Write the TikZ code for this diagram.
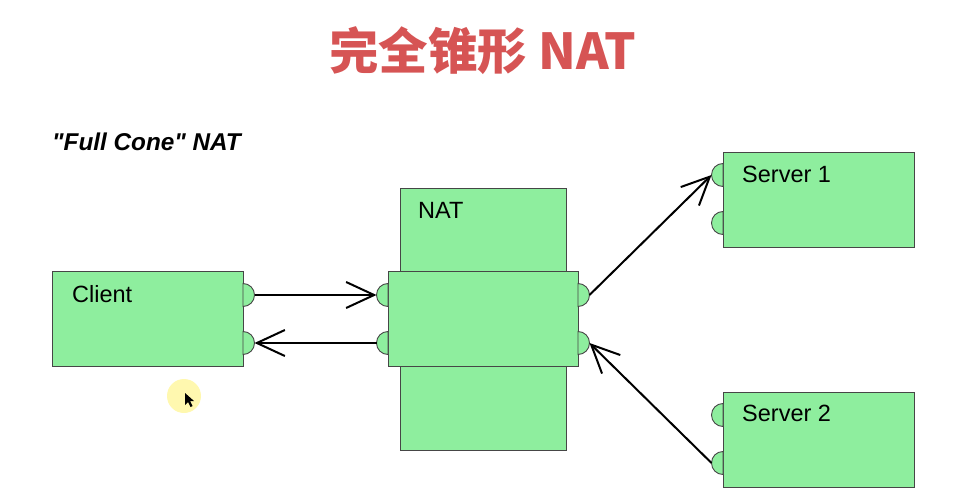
\documentclass[tikz,border=0pt]{standalone}
\usepackage{fontspec}
\setmainfont{Liberation Sans}
\newfontfamily\subfont{Liberation Sans}
\newfontfamily\cjk{Noto Sans CJK SC}
\usetikzlibrary{arrows.meta}
\definecolor{boxgreen}{RGB}{142,238,158}
\definecolor{titlered}{RGB}{214,84,84}
\definecolor{edgegrey}{RGB}{70,70,70}
\definecolor{cursorglow}{RGB}{255,248,175}
\newcommand\portright[2]{\draw[portst] (#1,#2-11.5) arc[start angle=-90,end angle=90,radius=11.5] -- cycle;}
\newcommand\portleft[2]{\draw[portst] (#1,#2-11.5) arc[start angle=-90,end angle=-270,radius=11.5] -- cycle;}
\begin{document}
\begin{tikzpicture}[x=1pt,y=-1pt,
 box/.style={draw=edgegrey, fill=boxgreen, line width=0.9pt, inner sep=0, anchor=north west},
 portst/.style={draw=edgegrey, fill=boxgreen, line width=0.9pt},
 lbl/.style={anchor=base west, inner sep=0, font=\fontsize{23.5}{28}\selectfont},
 conn/.style={line width=2pt, -{Straight Barb[length=28pt,width=26pt,line width=2pt]}}
]
\useasboundingbox (0,0) rectangle (962,503);
% title
\node[font=\cjk\bfseries\fontsize{49.5}{54}\selectfont, text=titlered] (title) at (483,51) {完全锥形 NAT};
\node[lbl, font=\subfont\bfseries\itshape\fontsize{24.3}{28}\selectfont] (sub) at (52,150.5) {"Full Cone" NAT};
% boxes
\node[box, minimum width=191, minimum height=95] (client) at (52,271) {};
\node[box, minimum width=166, minimum height=262] (nattall) at (400,188) {};
\node[box, minimum width=190, minimum height=95] (natmid) at (388,271) {};
\node[box, minimum width=191, minimum height=95] (s1) at (723,152) {};
\node[box, minimum width=191, minimum height=95] (s2) at (723,392) {};
% labels
\node[lbl] (clientlbl) at (72,302.5) {Client};
\node[lbl] (natlbl) at (418,218.5) {NAT};
\node[lbl] (s1lbl) at (742,182.5) {Server 1};
\node[lbl] (s2lbl) at (742,421.5) {Server 2};
% ports
\portright{243}{295} \portright{243}{343}
\portleft{388}{295} \portleft{388}{343}
\portright{578}{295} \portright{578}{343}
\portleft{723}{175} \portleft{723}{223}
\portleft{723}{415} \portleft{723}{463}
\coordinate (c1) at (254.5,295); \coordinate (c2) at (254.5,343);
\coordinate (nl1) at (376.5,295); \coordinate (nl2) at (376.5,343);
\coordinate (nr1) at (589.5,295); \coordinate (nr2) at (589.5,343);
\coordinate (s1p) at (711.5,175); \coordinate (s2p) at (711.5,463);
% connectors
\draw[conn] (c1) -- (nl1);
\draw[conn] (nl2) -- (c2);
\draw[conn] (nr1) -- (s1p);
\draw[conn] (s2p) -- (nr2);
% cursor
\fill[cursorglow] (184,396) circle[radius=17];
\fill[black] (185,393) -- (185,405) -- (188,402) -- (190.5,407) -- (192.5,406) -- (190,401) -- (194,401) -- cycle;
\end{tikzpicture}
\end{document}
